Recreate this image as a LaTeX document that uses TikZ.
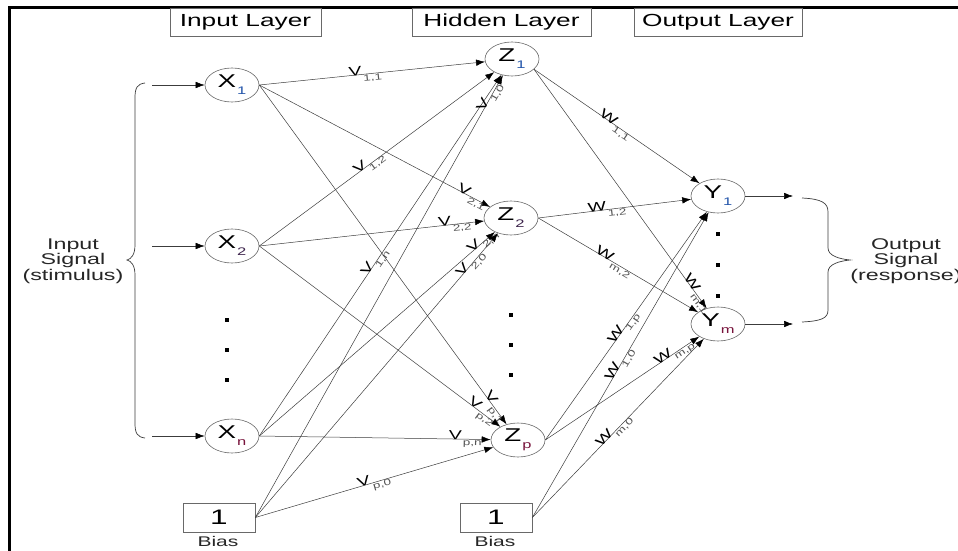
\documentclass[tikz,border=0pt]{standalone}
\usepackage{fontspec}
\setmainfont{Liberation Sans}[FakeStretch=1.5]
\usetikzlibrary{arrows.meta,shapes.geometric}
\definecolor{edgegray}{RGB}{60,60,60}
\definecolor{boxgray}{RGB}{105,105,105}
\definecolor{subgray}{RGB}{85,85,85}
\definecolor{subblue}{RGB}{35,85,170}
\definecolor{subdark}{RGB}{60,35,75}
\definecolor{submaroon}{RGB}{120,20,60}
\newcommand{\fsz}[1]{\fontsize{#1}{#1}\selectfont}
% unit name with a lowered index
\newcommand{\unitlab}[3]{#1\kern1pt\raisebox{-7pt}{\fsz{11}\color{#3}#2}}
% weight name with a lowered index
\newcommand{\wlab}[2]{#1\kern1pt\raisebox{-6pt}{\fsz{9}\color{subgray}#2}}
\tikzset{
  neuron/.style={ellipse, draw=boxgray, line width=0.6pt, minimum width=54pt,
    minimum height=34pt, inner sep=0pt, font=\fsz{18.5}},
  hdr/.style={draw=boxgray, line width=0.7pt, minimum height=28pt, inner sep=0pt,
    font=\fsz{17.5}},
  biasbox/.style={draw=boxgray, line width=0.7pt, minimum width=72pt,
    minimum height=29pt, inner sep=0pt, font=\fsz{21}},
  sigtext/.style={inner sep=0pt, font=\fsz{15.5}, align=center,
    text=black!85},
  wire/.style={draw=edgegray, line width=0.5pt,
    -{Latex[length=9pt,width=6.5pt,color=black]}},
  wl/.style={sloped, inner sep=0pt, font=\fsz{13}, text=black},
  sqdot/.style={fill=black, minimum size=3.5pt, inner sep=0pt},
}
\begin{document}
\begin{tikzpicture}[x=1pt,y=-1pt]
\useasboundingbox (0,0) rectangle (958,551);

% outer frame
\draw[line width=3pt] (9.5,551) -- (9.5,8) -- (958,8);

% layer headers
\node[hdr, minimum width=151pt] (hin)  at (245.5,22) {Input Layer};
\node[hdr, minimum width=179pt] (hhid) at (501.5,22) {Hidden Layer};
\node[hdr, minimum width=168pt] (hout) at (718,22)   {Output Layer};

% units
\node[neuron] (x1) at (232,85)  {\unitlab{X}{1}{subblue}};
\node[neuron] (x2) at (232,246) {\unitlab{X}{2}{subdark}};
\node[neuron] (xn) at (232,436) {\unitlab{X}{n}{submaroon}};
\node[neuron] (z1) at (512,59)  {\unitlab{Z}{1}{subblue}};
\node[neuron] (z2) at (511,218) {\unitlab{Z}{2}{subdark}};
\node[neuron] (zp) at (518,440) {\unitlab{Z}{p}{submaroon}};
\node[neuron] (y1) at (718,196) {\unitlab{Y}{1}{subblue}};
\node[neuron] (ym) at (718,324) {\unitlab{Y}{m}{submaroon}};

% bias units
\node[biasbox] (b1) at (219,517.5) {1};
\node[biasbox] (b2) at (496,517.5) {1};
\node[sigtext, font=\fsz{14}] (b1t) at (218,541) {Bias};
\node[sigtext, font=\fsz{14}] (b2t) at (495,541) {Bias};

% ellipsis dots
\foreach \yy [count=\i] in {320,350,380} \node[sqdot] (dx\i) at (227,\yy) {};
\foreach \yy [count=\i] in {315,345,375} \node[sqdot] (dz\i) at (511,\yy) {};
\foreach \yy [count=\i] in {234,265,296} \node[sqdot] (dy\i) at (718,\yy) {};

% signal texts and braces
\node[sigtext] (insig)  at (73,261)  {Input\\[0pt]Signal\\[0pt](stimulus)};
\node[sigtext] (outsig) at (906,261) {Output\\[0pt]Signal\\[0pt](response)};
\draw[edgegray, line width=0.7pt] (145,83) .. controls (137,84) and (135,88) .. (135,98)
  -- (135,245) .. controls (135,255) and (131,259) .. (127,260)
  .. controls (131,261) and (135,265) .. (135,275) -- (135,423)
  .. controls (135,433) and (137,437) .. (145,438);
\draw[edgegray, line width=0.7pt] (802,198) .. controls (822,199) and (828,203) .. (828,212)
  -- (828,248) .. controls (828,256) and (840,259) .. (850,260)
  .. controls (840,261) and (828,264) .. (828,272) -- (828,310)
  .. controls (828,318) and (822,321) .. (802,322);

% input and output signal arrows
\coordinate (in1) at (152,85);
\coordinate (in2) at (152,246);
\coordinate (inn) at (152,436);
\coordinate (out1) at (793,196);
\coordinate (outm) at (793,324);
\draw[wire] (in1) -- (x1);
\draw[wire] (in2) -- (x2);
\draw[wire] (inn) -- (xn);
\draw[wire] (y1.east) -- (out1);
\draw[wire] (ym.east) -- (outm);

% input -> hidden weights
\draw[wire] (x1.east) -- node[wl, pos=0.47] {\wlab{V}{1,1}} (z1);
\draw[wire] (x2.east) -- node[wl, pos=0.47] {\wlab{V}{1,2}} (z1);
\draw[wire] (xn.east) -- node[wl, pos=0.48] {\wlab{V}{1,n}} (z1);
\draw[wire] (b1.east) -- node[wl, pos=0.95] {\wlab{V}{1,0}} (z1);
\draw[wire] (x1.east) -- node[wl, pos=0.92] {\wlab{V}{2,1}} (z2);
\draw[wire] (x2.east) -- node[wl, pos=0.87] {\wlab{V}{2,2}} (z2);
\draw[wire] (xn.east) -- node[wl, pos=0.95] {\wlab{V}{2,n}} (z2);
\draw[wire] (b1.east) -- node[wl, pos=0.89] {\wlab{V}{2,0}} (z2);
\draw[wire] (x1.east) -- node[wl, pos=0.95] {\wlab{V}{p,1}} (zp);
\draw[wire] (x2.east) -- node[wl, pos=0.92] {\wlab{V}{p,2}} (zp);
\draw[wire] (xn.east) -- node[wl, pos=0.89] {\wlab{V}{p,n}} (zp);
\draw[wire] (b1.east) -- node[wl, pos=0.50] {\wlab{V}{p,0}} (zp);

% hidden -> output weights
\draw[wire] (z1.-25) -- node[wl, pos=0.49] {\wlab{W}{1,1}} (y1);
\draw[wire] (z2.east) -- node[wl, pos=0.45] {\wlab{W}{1,2}} (y1);
\draw[wire] (zp.east) -- node[wl, pos=0.49] {\wlab{W}{1,p}} (y1);
\draw[wire] (b2.east) -- node[wl, pos=0.50] {\wlab{W}{1,0}} (y1);
\draw[wire] (z1.-25) -- node[wl, pos=0.94] {\wlab{W}{m,1}} (ym);
\draw[wire] (z2.east) -- node[wl, pos=0.47] {\wlab{W}{m,2}} (ym);
\draw[wire] (zp.east) -- node[wl, pos=0.84] {\wlab{W}{m,p}} (ym);
\draw[wire] (b2.east) -- node[wl, pos=0.48] {\wlab{W}{m,0}} (ym);
\end{tikzpicture}
\end{document}
